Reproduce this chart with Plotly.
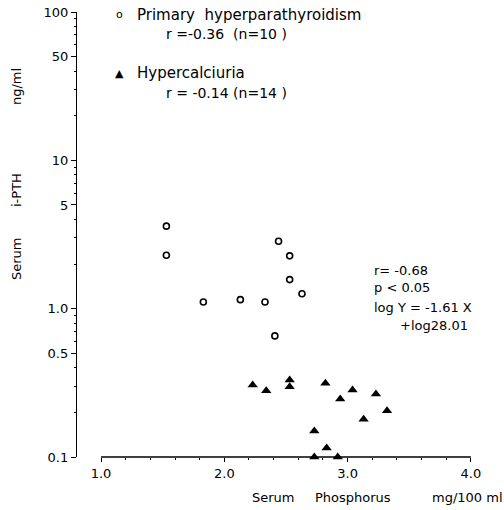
import plotly.graph_objects as go

# Primary hyperparathyroidism (open circles)
php_x = [1.53, 1.53, 1.83, 2.13, 2.33, 2.44, 2.53, 2.53, 2.63, 2.41]
php_y = [3.6, 2.29, 1.11, 1.15, 1.11, 2.85, 2.27, 1.57, 1.26, 0.655]

# Hypercalciuria (filled triangles)
hc_x = [2.23, 2.34, 2.53, 2.53, 2.82, 2.94, 3.04, 3.23, 3.32, 3.13, 2.73, 2.83, 2.73, 2.92]
hc_y = [0.306, 0.28, 0.33, 0.298, 0.314, 0.246, 0.283, 0.266, 0.205, 0.18, 0.150, 0.115, 0.1, 0.1]

y_tickvals = [0.1, 0.5, 1, 5, 10, 50, 100]
y_ticktext = ["0.1", "0.5", "1.0", "5", "10", "50", "100"]
y_minor = [0.2, 0.3, 0.4, 0.6, 0.7, 0.8, 0.9, 2, 3, 4, 6, 7, 8, 9, 20, 30, 40, 60, 70, 80, 90]
x_tickvals = [1, 2, 3, 4]
x_ticktext = ["1.0", "2.0", "3.0", "4.0"]
x_minor = [round(1 + 0.2 * i, 1) for i in range(16)]

FONT = "DejaVu Sans"

fig = go.Figure()
fig.add_trace(go.Scatter(
    x=php_x, y=php_y, mode="markers", cliponaxis=False,
    marker=dict(symbol="circle-open", size=6, color="black", line=dict(width=1.6)),
    showlegend=False))
fig.add_trace(go.Scatter(
    x=hc_x, y=hc_y, mode="markers", cliponaxis=False,
    marker=dict(symbol="triangle-up", size=9, color="black"),
    showlegend=False))

W, H = 504, 510
pl, pr, pt, pb = 77, 24, 12, 53
pw, ph = W - pl - pr, H - pt - pb

fig.update_layout(
    width=W, height=H,
    margin=dict(l=pl, r=pr, t=pt, b=pb, autoexpand=False),
    paper_bgcolor="white", plot_bgcolor="white",
    font=dict(family=FONT, size=13, color="black"),
    xaxis=dict(range=[0.805, 4.074], showline=False, showgrid=False, zeroline=False,
               tickmode="array", tickvals=x_tickvals, ticktext=x_ticktext,
               ticks="outside", ticklen=4, tickcolor="black",
               minor=dict(tickmode="array", tickvals=x_minor, ticks="outside", ticklen=2, tickcolor="black"),
               tickfont=dict(size=13)),
    yaxis=dict(type="log", range=[-1, 2], showline=True, linecolor="black", linewidth=1.3,
               showgrid=False, zeroline=False,
               tickmode="array", tickvals=y_tickvals, ticktext=y_ticktext,
               ticks="outside", ticklen=5, tickcolor="black",
               minor=dict(tickmode="array", tickvals=y_minor, ticks="outside", ticklen=2, tickcolor="black"),
               tickfont=dict(size=13)),
)

# x axis line only from 1.0 to 4.0
fig.add_shape(type="line", xref="x", yref="paper", x0=1, x1=4, y0=0, y1=0,
              line=dict(color="black", width=1.3))

def px(xp):
    return (xp - pl) / pw

def py(yp):
    return 1 - (yp - pt) / ph

def ann(text, x, y, xanchor="left", size=14):
    fig.add_annotation(text=text, x=px(x), y=py(y), xref="paper", yref="paper",
                       showarrow=False, xanchor=xanchor, yanchor="middle",
                       font=dict(family=FONT, size=size, color="black"))

# legend-like texts
ann("o", 114, 15, size=11)
ann("Primary  hyperparathyroidism", 135, 15, size=15)
ann("r =-0.36  (n=10 )", 164, 34, size=14)
ann("▲", 113, 73, size=11)
ann("Hypercalciuria", 135, 73, size=15)
ann("r = -0.14 (n=14 )", 164, 93, size=14)

# regression info
ann("r= -0.68", 372, 270, size=13)
ann("p < 0.05", 372, 287, size=13)
ann("log Y = -1.61 X", 372, 307, size=13)
ann("+log28.01", 398, 325, size=13)

# axis titles
ann("Serum", 250, 497, size=13)
ann("Phosphorus", 313, 497, size=13)
ann("mg/100 ml", 430, 497, size=13)
for txt, yc in [("Serum", 258), ("i-PTH", 190), ("ng/ml", 86)]:
    fig.add_annotation(text=txt, x=px(16), y=py(yc), xref="paper", yref="paper",
                       showarrow=False, textangle=-90, xanchor="center", yanchor="middle",
                       font=dict(family=FONT, size=13))

fig.write_html("out.html", config={"displayModeBar": False},
               post_script="document.body.style.margin='0';")
